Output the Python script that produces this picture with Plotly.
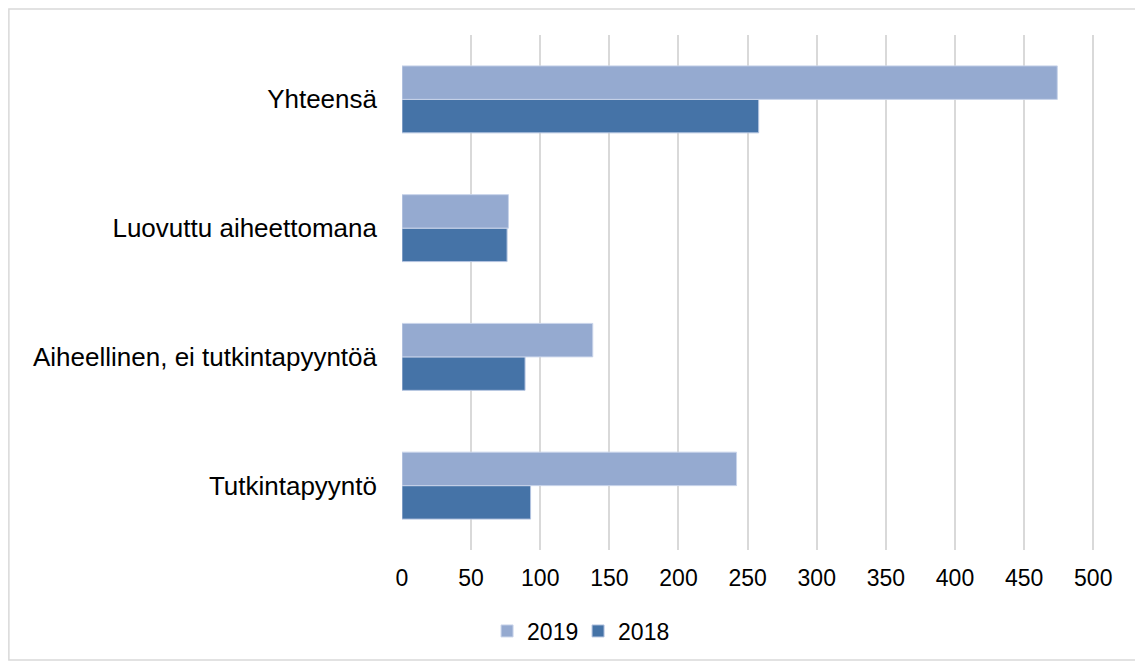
import plotly.graph_objects as go

categories = ["Tutkintapyyntö", "Aiheellinen, ei tutkintapyyntöä", "Luovuttu aiheettomana", "Yhteensä"]
values_2019 = [242, 138, 77, 474]
values_2018 = [93, 89, 76, 258]
x_ticks = [0, 50, 100, 150, 200, 250, 300, 350, 400, 450, 500]

# page body adds an 8px offset; all target positions below are page pixels
OFF = 8
W, H = 1143 - OFF, 664 - OFF
X0_PX, X500_PX = 402, 1093
scale = (X500_PX - X0_PX) / 500.0
x_max = 502
L = X0_PX - OFF
R = W - (X0_PX - OFF + x_max * scale)
T = 35 - OFF
B = H - (550 - OFF)
pw, ph = W - L - R, H - T - B

def px_to_paper_x(p):
    return (p - OFF - L) / pw

def px_to_paper_y(p):
    return (H - B - (p - OFF)) / ph

fig = go.Figure()
fig.add_trace(go.Bar(
    y=categories, x=values_2018, name="2018", orientation="h",
    marker=dict(color="#4573A7", line=dict(color="#B4C4E0", width=1)),
))
fig.add_trace(go.Bar(
    y=categories, x=values_2019, name="2019", orientation="h",
    marker=dict(color="#95AAD0", line=dict(color="#C9D4EA", width=1)),
))

font_family = "Liberation Sans, Arial, sans-serif"

fig.update_layout(
    width=W, height=H,
    margin=dict(l=L, r=R, t=T, b=B, pad=0),
    paper_bgcolor="white", plot_bgcolor="white",
    barmode="group", bargap=0.48, bargroupgap=0,
    font=dict(family=font_family, size=23, color="#000000"),
    showlegend=True,
    legend=dict(
        orientation="h", traceorder="reversed",
        x=px_to_paper_x(578), xanchor="center",
        y=px_to_paper_y(631), yanchor="middle",
        font=dict(size=23), itemwidth=30, entrywidth=46,
        bgcolor="rgba(0,0,0,0)",
    ),
    xaxis=dict(
        range=[0, x_max], tickvals=x_ticks, ticktext=[str(v) for v in x_ticks],
        showgrid=True, gridcolor="#D9D9D9", gridwidth=1.5,
        zeroline=False, showline=False, ticks="",
        ticklabelstandoff=12,
        tickfont=dict(size=23),
    ),
    yaxis=dict(
        categoryorder="array", categoryarray=categories,
        showgrid=False, zeroline=False, showline=False, ticks="",
        ticklabelstandoff=24,
        tickfont=dict(size=26),
    ),
    shapes=[dict(
        type="rect", xref="paper", yref="paper",
        x0=px_to_paper_x(9), x1=px_to_paper_x(1141),
        y0=px_to_paper_y(660), y1=px_to_paper_y(9),
        line=dict(color="#D9D9D9", width=1.5), fillcolor="rgba(0,0,0,0)",
        layer="below",
    )],
)

fig.write_html("out.html")
